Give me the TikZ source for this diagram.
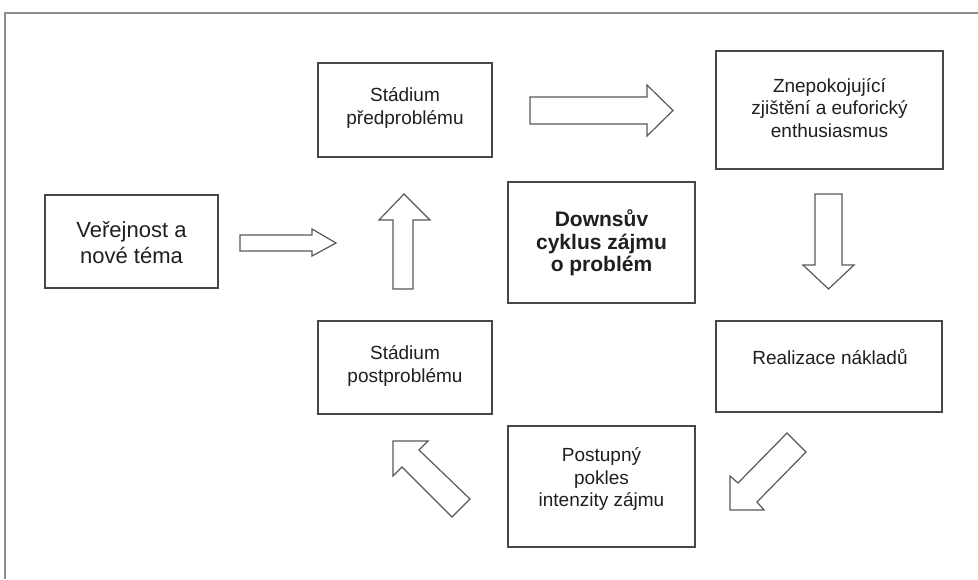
\documentclass[tikz,border=0pt]{standalone}
\usepackage{fontspec}
\setmainfont{Liberation Sans}
\begin{document}
\begin{tikzpicture}[x=1pt,y=-1pt,
  frameline/.style={draw=black!45,line width=1.4pt},
  box/.style={draw=black!72,line width=1.3pt,fill=white,inner sep=0pt},
  txt/.style={align=center,text=black!88,inner sep=0pt,font=\fontsize{19}{22.5}\selectfont},
  blockarrow/.style={draw=black!65,line width=1.2pt,fill=white,line join=miter}]
\useasboundingbox (0,0) rectangle (978,579);
\fill[white] (0,0) rectangle (978,579);
% outer frame (open at right and bottom)
\draw[frameline] (5,579) -- (5,13) -- (978,13);

% boxes
\node[box,minimum width=174pt,minimum height=94pt] (b1) at (405,110) {};
\node[box,minimum width=227pt,minimum height=118pt] (b2) at (829.5,110) {};
\node[box,minimum width=187pt,minimum height=121pt] (b3) at (601.5,242.5) {};
\node[box,minimum width=173pt,minimum height=93pt] (b4) at (131.5,241.5) {};
\node[box,minimum width=226pt,minimum height=91pt] (b5) at (829,366.5) {};
\node[box,minimum width=174pt,minimum height=93pt] (b6) at (405,367.5) {};
\node[box,minimum width=187pt,minimum height=121pt] (b7) at (601.5,486.5) {};

% texts
\node[txt] (t1) at (405,108) {Stádium\\předproblému};
\node[txt] (t2) at (829.5,108) {Znepokojující\\zjištění a euforický\\enthusiasmus};
\node[txt,font=\bfseries\fontsize{21}{22.5}\selectfont] (t3) at (601.5,243) {Downsův\\cyklus zájmu\\o problém};
\node[txt,font=\fontsize{22}{26}\selectfont] (t4) at (131.5,243) {Veřejnost a\\nové téma};
\node[txt] (t5) at (830,357) {Realizace nákladů};
\node[txt] (t6) at (405,366) {Stádium\\postproblému};
\node[txt] (t7) at (601.5,479) {Postupný\\pokles\\intenzity zájmu};

% block arrows
% right arrow (top)
\draw[blockarrow] (530,97) -- (647,97) -- (647,85) -- (673,110.5) -- (647,136) -- (647,124) -- (530,124) -- cycle;
% down arrow (right)
\draw[blockarrow] (815,194) -- (842,194) -- (842,265) -- (854,265) -- (828.5,289) -- (803,265) -- (815,265) -- cycle;
% down-left arrow
\draw[blockarrow] (787,433) -- (806,452) -- (757,502) -- (764,510) -- (730,510) -- (730,476) -- (738,483) -- cycle;
% up-left arrow
\draw[blockarrow] (393,441) -- (428,441) -- (419,450) -- (470,499) -- (452,517) -- (402,467) -- (393,476) -- cycle;
% up arrow (left)
\draw[blockarrow] (393,289) -- (393,220) -- (379,220) -- (404,194) -- (430,220) -- (413,220) -- (413,289) -- cycle;
% right arrow (left)
\draw[blockarrow] (240,235) -- (312,235) -- (312,229) -- (336,243) -- (312,256) -- (312,251) -- (240,251) -- cycle;
\end{tikzpicture}
\end{document}
